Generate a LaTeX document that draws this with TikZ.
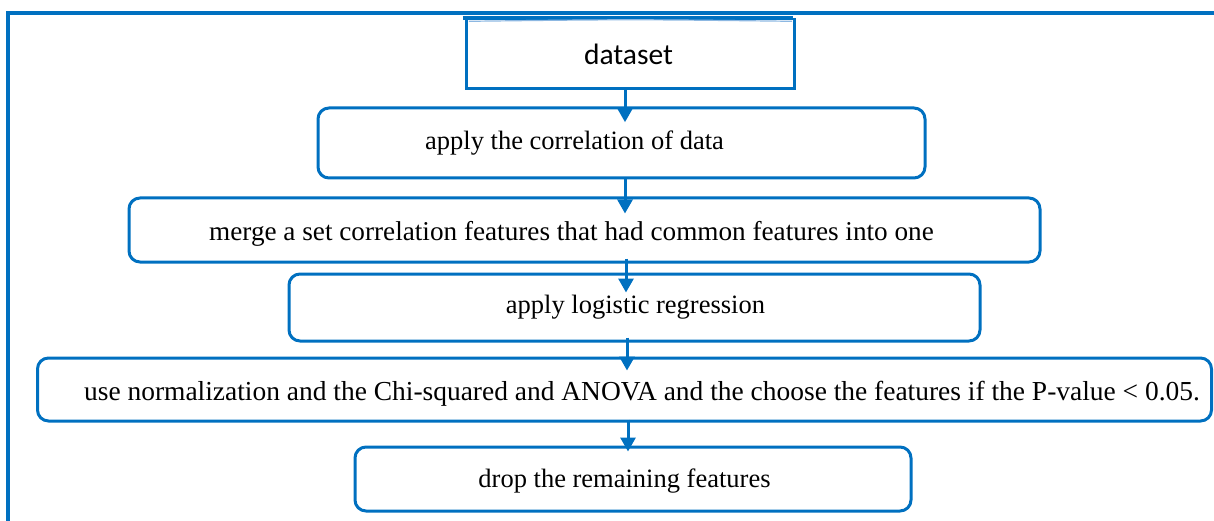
\documentclass[tikz,border=0pt]{standalone}
\usepackage{fontspec}
\setmainfont{Liberation Serif}
\newfontfamily\labelsans{Carlito}
\usetikzlibrary{arrows.meta}
\definecolor{flowblue}{HTML}{0070C0}
\definecolor{flowlight}{HTML}{8DB8E2}
\tikzset{
  stepbox/.style={draw=flowblue, line width=3pt, rounded corners=11pt,
    rectangle, inner sep=0pt},
  steptext/.style={inner sep=0pt, font=\fontsize{26.5}{30}\selectfont},
  flowarrow/.style={draw=flowblue, line width=3pt,
    -{Triangle[width=15pt,length=14pt]}},
  frameline/.style={draw=flowblue, line width=4pt},
}
\begin{document}
\begin{tikzpicture}[x=1pt,y=-1pt]
\useasboundingbox (0,0) rectangle (1214,521);
% outer frame (only top and left sides visible)
\draw[frameline] (8,521) -- (8,13) -- (1214,13);
% data source shape
\node[minimum width=327pt, minimum height=70pt, inner sep=0pt] (dataset) at (630.5,53) {};
\node[inner sep=0pt, font=\labelsans\fontsize{29.5}{32}\selectfont] (datasettext)
  at ([xshift=-2pt,yshift=-1pt]dataset.center) {dataset};
\draw[flowblue, line width=3pt] (dataset.north west) -- (dataset.south west)
  -- (dataset.south east) -- (dataset.north east);
\draw[flowblue, line width=3.5pt] ([xshift=-4pt]dataset.north west) -- ([xshift=-1pt]dataset.north east);
\draw[flowlight, line width=1.2pt] ([xshift=2pt,yshift=-3.5pt]dataset.north west)
  .. controls ([yshift=-1.5pt]dataset.north) .. ([xshift=-2pt,yshift=-3.5pt]dataset.north east);
% processing steps
\node[stepbox, minimum width=607pt, minimum height=70pt] (corr) at (621.5,143) {};
\node[steptext] (corrtext) at ([xshift=-47pt]corr.center)
  {apply the correlation of data};
\node[stepbox, minimum width=911pt, minimum height=64pt] (merge) at (584.5,230) {};
\node[steptext, font=\fontsize{27.2}{30}\selectfont] (mergetext)
  at ([xshift=-13pt,yshift=-4pt]merge.center)
  {merge a set correlation features that had common features into one};
\node[stepbox, minimum width=691pt, minimum height=67pt] (logit) at (634.5,307.5) {};
\node[steptext] (logittext) at ([xshift=1pt]logit.center)
  {apply logistic regression};
\node[stepbox, minimum width=1174pt, minimum height=63pt] (select) at (624.5,389.5) {};
\node[steptext, font=\fontsize{27.45}{30}\selectfont] (selecttext)
  at ([xshift=17.5pt,yshift=-4pt]select.center)
  {use normalization and the Chi-squared and ANOVA and the choose the features if the P-value < 0.05.};
\node[stepbox, minimum width=556pt, minimum height=64pt] (drop) at (633,479) {};
\node[steptext] (droptext) at ([xshift=-8.5pt,yshift=-2pt]drop.center)
  {drop the remaining features};
% connectors
\draw[flowarrow] ([xshift=-5.5pt]dataset.south) -- ++(0,34);
\draw[flowarrow] ([xshift=3.5pt]corr.south) -- ++(0,34);
\draw[flowarrow] ([xshift=41.5pt,yshift=5pt]merge.south) -- ++(0,34);
\draw[flowarrow] ([xshift=-7.5pt,yshift=5pt]logit.south) -- ++(0,33);
\draw[flowarrow] ([xshift=3.5pt,yshift=3pt]select.south) -- ++(0,32);
\end{tikzpicture}
\end{document}
